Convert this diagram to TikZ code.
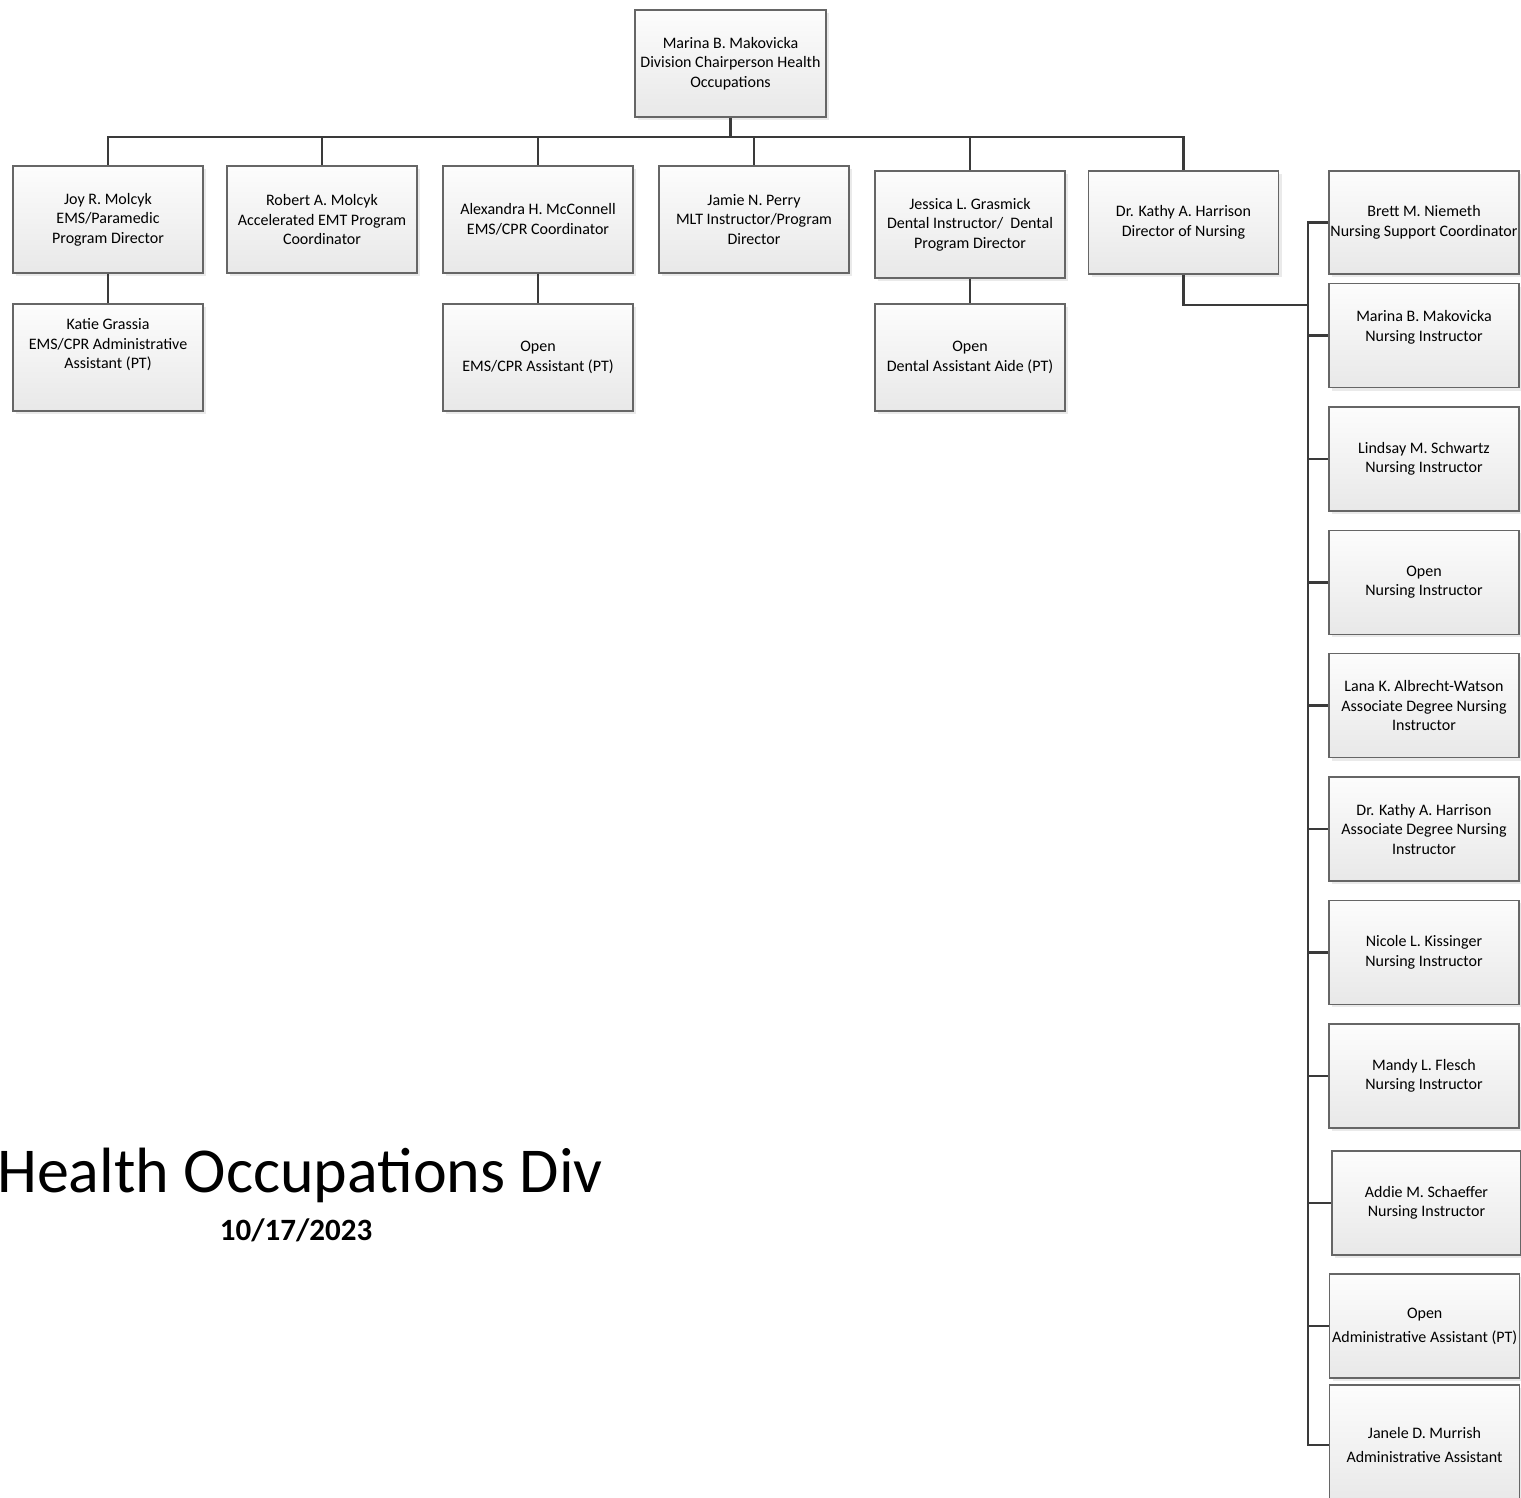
\documentclass[tikz,border=0pt]{standalone}
\usepackage{fontspec}
\setmainfont{Carlito}
\usetikzlibrary{shadows}
\definecolor{linegray}{HTML}{3A3A3A}
\definecolor{boxgray}{HTML}{666666}
\tikzset{
  post/.style={draw=boxgray,line width=1.2pt,top color=white!99!black,bottom color=white!91!black,
    minimum width=190pt,minimum height=107pt,inner sep=0pt,align=center,
    font=\fontsize{16}{19.5}\selectfont,
    drop shadow={shadow xshift=3pt,shadow yshift=-3pt,fill=black!16}},
  staff/.style={post,minimum height=104pt},
  link/.style={draw=linegray,line width=2.8pt}
}
\begin{document}
\begin{tikzpicture}[x=1pt,y=-1pt]
\useasboundingbox (0,0) rectangle (1521,1497);
% head of division
\node[post,minimum width=191pt] (chair) at (730.5,63.5) {Marina B. Makovicka\\Division Chairperson Health\\Occupations};
% program heads
\node[post] (joy) at (108,219.5) {Joy R. Molcyk\\EMS/Paramedic\\Program Director};
\node[post] (robert) at (322,219.5) {Robert A. Molcyk\\Accelerated EMT Program\\Coordinator};
\node[post] (alexandra) at (538,219.5) {Alexandra H. McConnell\\EMS/CPR Coordinator};
\node[post] (jamie) at (754,219.5) {Jamie N. Perry\\MLT Instructor/Program\\Director};
\node[post] (jessica) at (970,224.5) {Jessica L. Grasmick\\Dental Instructor/\ \ Dental\\Program Director};
\node[post,minimum height=103pt] (kathy) at (1183.5,222.5) {Dr. Kathy A. Harrison\\Director of Nursing};
% assistants
\node[post] (katie) at (108,357.5) {Katie Grassia\\EMS/CPR Administrative\\Assistant (PT)\\[8pt]~};
\node[post] (openems) at (538,357.5) {Open\\EMS/CPR Assistant (PT)};
\node[post] (opendental) at (970,357.5) {Open\\Dental Assistant Aide (PT)};
% nursing staff
\node[staff,minimum height=103pt] (brett) at (1424,222.5) {Brett M. Niemeth\\Nursing Support Coordinator};
\node[staff] (marina) at (1424,335.7) {Marina B. Makovicka\\Nursing Instructor\\~};
\node[staff] (lindsay) at (1424,459) {Lindsay M. Schwartz\\Nursing Instructor};
\node[staff] (openni) at (1424,582.3) {Open\\Nursing Instructor};
\node[staff] (lana) at (1424,705.5) {Lana K. Albrecht-Watson\\Associate Degree Nursing\\Instructor};
\node[staff] (drkathy) at (1424,829) {Dr. Kathy A. Harrison\\Associate Degree Nursing\\Instructor};
\node[staff] (nicole) at (1424,952.3) {Nicole L. Kissinger\\Nursing Instructor};
\node[staff] (mandy) at (1424,1076) {Mandy L. Flesch\\Nursing Instructor};
\node[staff,minimum width=189pt] (addie) at (1426.5,1203) {Addie M. Schaeffer\\Nursing Instructor};
\node[staff] (openadmin) at (1424.7,1326) {Open\\[4.5pt]Administrative Assistant (PT)};
\node[staff,minimum height=120pt] (janele) at (1424.5,1445) {Janele D. Murrish\\[4.5pt]Administrative Assistant};
% title
\node[anchor=base west,inner sep=0pt,font=\fontsize{64}{76}\selectfont] (title) at (-3,1192.3) {Health Occupations Div};
\node[anchor=base,inner sep=0pt,font=\fontsize{31}{37}\selectfont\bfseries] (date) at (296,1240) {10/17/2023};
% connectors
\coordinate (bus) at (730.5,137);
\draw[link] (chair.south) -- (bus);
\foreach \n in {joy,robert,alexandra,jamie,jessica,kathy}
  \draw[link] (bus) -| (\n.north);
\draw[link] (joy) -- (katie);
\draw[link] (alexandra) -- (openems);
\draw[link] (jessica) -- (opendental);
\coordinate (trunk) at (1308,305);
\draw[link] (kathy.south) |- (trunk);
\foreach \n in {brett,marina,lindsay,openni,lana,drkathy,nicole,mandy,addie,openadmin,janele}
  \draw[link] (trunk) |- (\n.west);
\end{tikzpicture}
\end{document}
